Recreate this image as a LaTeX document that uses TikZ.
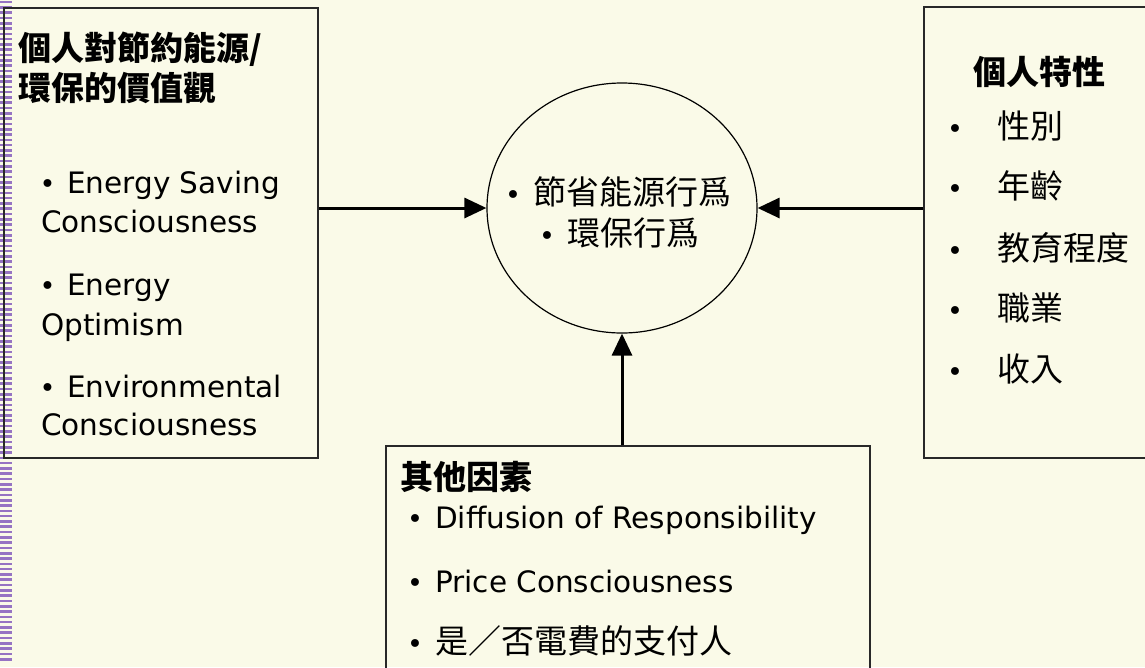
\documentclass[tikz,border=0pt]{standalone}
\usepackage{fontspec}
\setmainfont{DejaVu Sans}
\newfontfamily\cjk{Noto Sans CJK TC}
\usetikzlibrary{arrows.meta,shapes.geometric}
\definecolor{bg}{RGB}{250,250,232}
\definecolor{hatch}{RGB}{150,115,195}
\definecolor{edge}{RGB}{40,40,40}
\newcommand{\bul}{{\normalfont\fontsize{27}{27}\selectfont •}}
\begin{document}
\begin{tikzpicture}[x=1pt,y=-1pt,
  box/.style={draw=edge,line width=1.5pt,rectangle,inner sep=0},
  lat/.style={font=\fontsize{29.5}{35}\selectfont,inner sep=0,anchor=base west},
  cj/.style={font=\cjk\fontsize{33}{40}\selectfont,inner sep=0,anchor=base west},
  cjb/.style={font=\cjk\bfseries\fontsize{33}{40}\selectfont,inner sep=0,anchor=base west},
  arr/.style={line width=3pt,-{Triangle[length=22pt,width=20pt]}}]
\useasboundingbox (0,0) rectangle (1145,667);
\fill[bg] (0,0) rectangle (1145,667);
% hatched strip on the left edge
\foreach \i in {0,...,124} \draw[hatch,line width=2.6pt] (0,\i*5.3+2) -- (12,\i*5.3+2);
% boxes
\node[box,minimum width=314pt,minimum height=450pt] (lbox) at (161,233) {};
\node[box,minimum width=224pt,minimum height=451pt] (rbox) at (1036,232.5) {};
\node[box,minimum width=484pt,minimum height=224pt] (bbox) at (628,558) {};
\node[draw=black,line width=1.2pt,ellipse,minimum width=270pt,minimum height=250pt,inner sep=0] (circ) at (622,208) {};
% arrows
\draw[arr] (lbox.east |- circ.west) -- (circ.west);
\draw[arr] (rbox.west |- circ.east) -- (circ.east);
\draw[arr] (bbox.north -| circ.south) -- (circ.south);
% left box text
\node[cjb] (lt1) at (18,60.5) {個人對節約能源/};
\node[cjb] (lt2) at (18,100.5) {環保的價值觀};
\node[lat] (l1) at (39.5,193) {\makebox[27.5pt][l]{\bul}Energy Saving};
\node[lat] (l2) at (41,232) {Consciousness};
\node[lat] (l3) at (39.5,295) {\makebox[27.5pt][l]{\bul}Energy};
\node[lat] (l4) at (41,335) {Optimism};
\node[lat] (l5) at (39.5,397) {\makebox[27.5pt][l]{\bul}Environmental};
\node[lat] (l6) at (41,435) {Consciousness};
% right box text
\node[cjb] (rt) at (973,84.5) {個人特性};
\node[cj] (r1) at (947,138.5) {\makebox[50pt][l]{\bul}性別};
\node[cj] (r2) at (947,198.5) {\makebox[50pt][l]{\bul}年齡};
\node[cj] (r3) at (947,260.5) {\makebox[50pt][l]{\bul}教育程度};
\node[cj] (r4) at (947,320.5) {\makebox[50pt][l]{\bul}職業};
\node[cj] (r5) at (947,381.5) {\makebox[50pt][l]{\bul}收入};
% circle text
\node[cj] (c1) at (505,204.5) {\makebox[28pt][l]{\bul}節省能源行爲};
\node[cj] (c2) at (539,245.5) {\makebox[28pt][l]{\bul}環保行爲};
% bottom box text
\node[cjb] (bt) at (400,489.5) {其他因素};
\node[lat] (b1) at (407,528) {\makebox[28pt][l]{\bul}Diffusion of Responsibility};
\node[lat] (b2) at (407,592) {\makebox[28pt][l]{\bul}Price Consciousness};
\node[cj] (b3) at (407,653.5) {\makebox[28pt][l]{\bul}是／否電費的支付人};
\end{tikzpicture}
\end{document}
